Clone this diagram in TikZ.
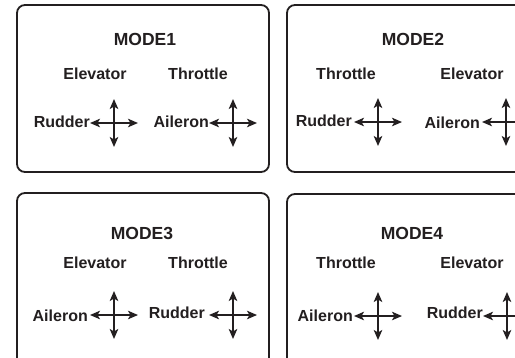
\documentclass[tikz,border=0pt]{standalone}
\usepackage{fontspec}
\setmainfont{Liberation Sans}
\usetikzlibrary{arrows.meta}
\definecolor{ink}{HTML}{231F20}
\newcommand{\stickcross}[2]{%
  \draw[stick] (#1-24,#2) -- (#1+24,#2);
  \draw[stick] (#1,#2-24) -- (#1,#2+24);}
\begin{document}
\begin{tikzpicture}[x=1pt,y=-1pt,
  panel/.style={draw=ink, line width=1.8pt, rounded corners=8pt},
  title/.style={font=\bfseries\fontsize{17.5}{20}\selectfont, text=ink, inner sep=0pt},
  lbl/.style={font=\bfseries\fontsize{16}{19}\selectfont, text=ink, inner sep=0pt},
  stick/.style={draw=ink, line width=1.5pt, {Stealth[length=10pt,width=8.5pt,inset=2.5pt]}-{Stealth[length=10pt,width=8.5pt,inset=2.5pt]}}]
\useasboundingbox (0,0) rectangle (515,357);
\clip (0,0) rectangle (515,357);
\fill[white] (0,0) rectangle (515,357);
% panels
\draw[panel] (17,5) rectangle (269,172);
\draw[panel] (287,5) rectangle (545,172);
\draw[panel] (17,193) rectangle (269,390);
\draw[panel] (287,194) rectangle (545,390);
% MODE1
\node[title] (m1) at (145,39) {MODE1};
\node[lbl] (m1a) at (95,74) {Elevator};
\node[lbl] (m1b) at (198,74) {Throttle};
\node[lbl,anchor=east] (m1c) at (90,122) {Rudder};
\node[lbl,anchor=east] (m1d) at (209,122) {Aileron};
\stickcross{114}{123}
\stickcross{233}{123}
% MODE2
\node[title] (m2) at (413,39) {MODE2};
\node[lbl] (m2a) at (346,74) {Throttle};
\node[lbl] (m2b) at (472,74) {Elevator};
\node[lbl,anchor=east] (m2c) at (352,121) {Rudder};
\node[lbl,anchor=east] (m2d) at (480,123) {Aileron};
\stickcross{378}{122}
\stickcross{506}{122}
% MODE3
\node[title] (m3) at (142,233) {MODE3};
\node[lbl] (m3a) at (95,263) {Elevator};
\node[lbl] (m3b) at (198,263) {Throttle};
\node[lbl,anchor=east] (m3c) at (88,316) {Aileron};
\node[lbl,anchor=east] (m3d) at (205,313) {Rudder};
\stickcross{114}{315}
\stickcross{233}{315}
% MODE4
\node[title] (m4) at (412,233) {MODE4};
\node[lbl] (m4a) at (346,263) {Throttle};
\node[lbl] (m4b) at (472,263) {Elevator};
\node[lbl,anchor=east] (m4c) at (353,316) {Aileron};
\node[lbl,anchor=east] (m4d) at (483,313) {Rudder};
\stickcross{378}{316}
\stickcross{507}{316}
\end{tikzpicture}
\end{document}
